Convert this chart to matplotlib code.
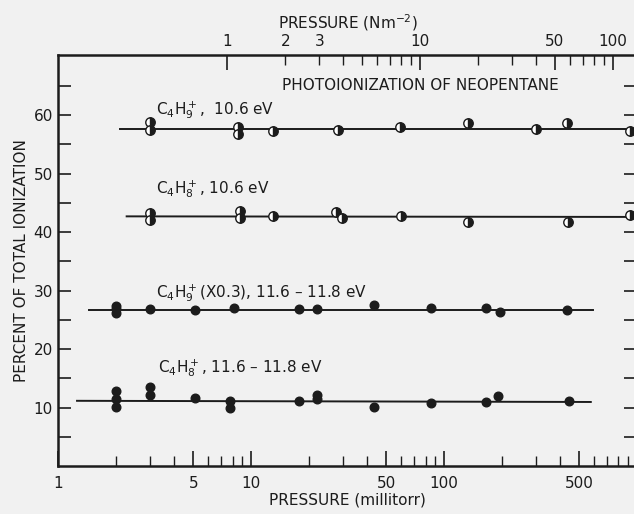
import numpy as np
import matplotlib
matplotlib.use("Agg")
from matplotlib import pyplot as plt
from matplotlib.ticker import FixedLocator, FixedFormatter, NullFormatter

# datos (presion en millitorr, porcentaje de ionizacion)
c4h9_106_p = [3, 3, 8.5, 8.5, 13, 28, 59, 133, 298, 434, 916]
c4h9_106_v = [58.9, 57.5, 57.9, 56.8, 57.3, 57.5, 57.9, 58.7, 57.7, 58.7, 57.3]
c4h9_106_fit_p = [2.09, 1000]
c4h9_106_fit_v = [57.7, 57.7]

c4h8_106_p = [3, 3, 8.7, 8.7, 13, 27.4, 29.4, 60, 133, 439, 916]
c4h8_106_v = [43.3, 42.1, 43.6, 42.5, 42.8, 43.4, 42.4, 42.7, 41.7, 41.7, 42.9]
c4h8_106_fit_p = [2.26, 1000]
c4h8_106_fit_v = [42.7, 42.6]

c4h9_116_p = [2, 2, 2, 3, 5.1, 8.1, 17.7, 22, 43.4, 85, 165, 195, 434]
c4h9_116_v = [27.3, 26.8, 26.2, 26.8, 26.7, 27.0, 26.9, 26.9, 27.6, 27.1, 27.1, 26.4, 26.7]
c4h9_116_fit_p = [1.45, 592]
c4h9_116_fit_v = [26.7, 26.7]

c4h8_116_p = [2, 2, 2, 3, 3, 5.1, 7.8, 7.8, 17.7, 21.8, 21.8, 43.4, 85, 165, 191, 443]
c4h8_116_v = [12.9, 11.5, 10.1, 13.5, 12.1, 11.7, 11.2, 10.0, 11.1, 12.1, 11.4, 10.1, 10.8, 10.9, 11.9, 11.1]
c4h8_116_fit_p = [1.25, 575]
c4h8_116_fit_v = [11.15, 10.95]

MTORR_POR_NM2 = 7.50062

bottom_major = [1, 5, 10, 50, 100, 500]
bottom_minor = [2, 3, 4, 6, 7, 8, 9, 20, 30, 40, 60, 70, 80, 90,
                200, 300, 400, 600, 700, 800, 900]
top_major = [1, 10, 50, 100]
top_minor = [2, 3, 4, 5, 6, 7, 8, 9, 20, 30, 40, 60, 70, 80, 90]

INK = "#1c1c1c"
BG = "#f1f1f1"

plt.rcParams["font.family"] = ["DejaVu Sans"]
plt.rcParams["mathtext.default"] = "regular"
plt.rcParams["text.color"] = INK

fig = plt.figure(figsize=(6.34, 5.14), dpi=100, facecolor=BG)
ax = fig.add_axes([0.092, 0.0934, 0.913, 0.7996])
ax.set_facecolor(BG)
ax.set_xscale("log")
ax.set_xlim(1, 1000)
ax.set_ylim(0, 70.3)

# rectas de ajuste
for px, pv in [(c4h9_106_fit_p, c4h9_106_fit_v), (c4h8_106_fit_p, c4h8_106_fit_v),
               (c4h9_116_fit_p, c4h9_116_fit_v), (c4h8_116_fit_p, c4h8_116_fit_v)]:
    ax.plot(px, pv, color=INK, lw=1.4, zorder=2)

# puntos medio llenos (10.6 eV)
half = dict(ls="none", marker="o", ms=6.8, fillstyle="right", markerfacecolor=INK,
            markerfacecoloralt="white", markeredgecolor=INK, markeredgewidth=1.0,
            zorder=3, clip_on=False)
ax.plot(c4h9_106_p, c4h9_106_v, **half)
ax.plot(c4h8_106_p, c4h8_106_v, **half)

# puntos llenos (11.6-11.8 eV)
full = dict(ls="none", marker="o", ms=6.2, color=INK, zorder=3)
ax.plot(c4h9_116_p, c4h9_116_v, **full)
ax.plot(c4h8_116_p, c4h8_116_v, **full)

# textos
fs = 11
fig.text(282 / 634, 1 - 85 / 514, "PHOTOIONIZATION OF NEOPENTANE", fontsize=fs, va="center")
ax.text(3.2, 60.8, r"$C_4H_9^+$,  10.6 eV", fontsize=fs, va="center")
ax.text(3.2, 47.3, r"$C_4H_8^+$, 10.6 eV", fontsize=fs, va="center")
ax.text(3.2, 29.6, r"$C_4H_9^+$(X0.3), 11.6 – 11.8 eV", fontsize=fs, va="center")
ax.text(3.3, 16.8, r"$C_4H_8^+$, 11.6 – 11.8 eV", fontsize=fs, va="center")

# eje inferior
ax.xaxis.set_major_locator(FixedLocator(bottom_major))
ax.xaxis.set_major_formatter(FixedFormatter([str(v) for v in bottom_major]))
ax.xaxis.set_minor_locator(FixedLocator(bottom_minor))
ax.xaxis.set_minor_formatter(NullFormatter())
ax.set_yticks([10, 20, 30, 40, 50, 60])
ax.set_yticks([5, 15, 25, 35, 45, 55, 65], minor=True)

ax.tick_params(axis="x", which="major", direction="in", length=11, width=1.2,
               colors=INK, labelsize=fs, pad=7, top=False)
ax.tick_params(axis="x", which="minor", direction="in", length=7.5, width=1.0,
               colors=INK, top=False)
ax.tick_params(axis="y", which="both", direction="in", length=9.5, width=1.2,
               colors=INK, labelsize=fs, pad=4, right=True)
ax.set_xlabel("PRESSURE (millitorr)", fontsize=fs, labelpad=1, color=INK)
ax.set_ylabel("PERCENT OF TOTAL IONIZATION", fontsize=fs, labelpad=3, color=INK)

for lado in ["left", "bottom", "top", "right"]:
    ax.spines[lado].set_color(INK)
    ax.spines[lado].set_linewidth(1.8)

# eje superior en N m^-2
ax2 = ax.twiny()
ax2.set_xscale("log")
ax2.set_xlim(1 / MTORR_POR_NM2, 1000 / MTORR_POR_NM2)
ax2.xaxis.set_major_locator(FixedLocator(top_major))
ax2.xaxis.set_major_formatter(FixedFormatter([str(v) for v in top_major]))
ax2.xaxis.set_minor_locator(FixedLocator(top_minor))
ax2.xaxis.set_minor_formatter(FixedFormatter(["2", "3"] + [""] * (len(top_minor) - 2)))
ax2.tick_params(axis="x", which="major", direction="in", length=11, width=1.2,
                colors=INK, labelsize=fs, pad=4)
ax2.tick_params(axis="x", which="minor", direction="in", length=7, width=1.0,
                colors=INK, labelsize=fs, pad=4)
ax2.set_xlabel(r"PRESSURE (Nm$^{-2}$)", fontsize=fs, labelpad=4, color=INK)
for lado in ["left", "bottom", "top", "right"]:
    ax2.spines[lado].set_visible(False)

fig.savefig("out.png", dpi=100, facecolor=BG)
